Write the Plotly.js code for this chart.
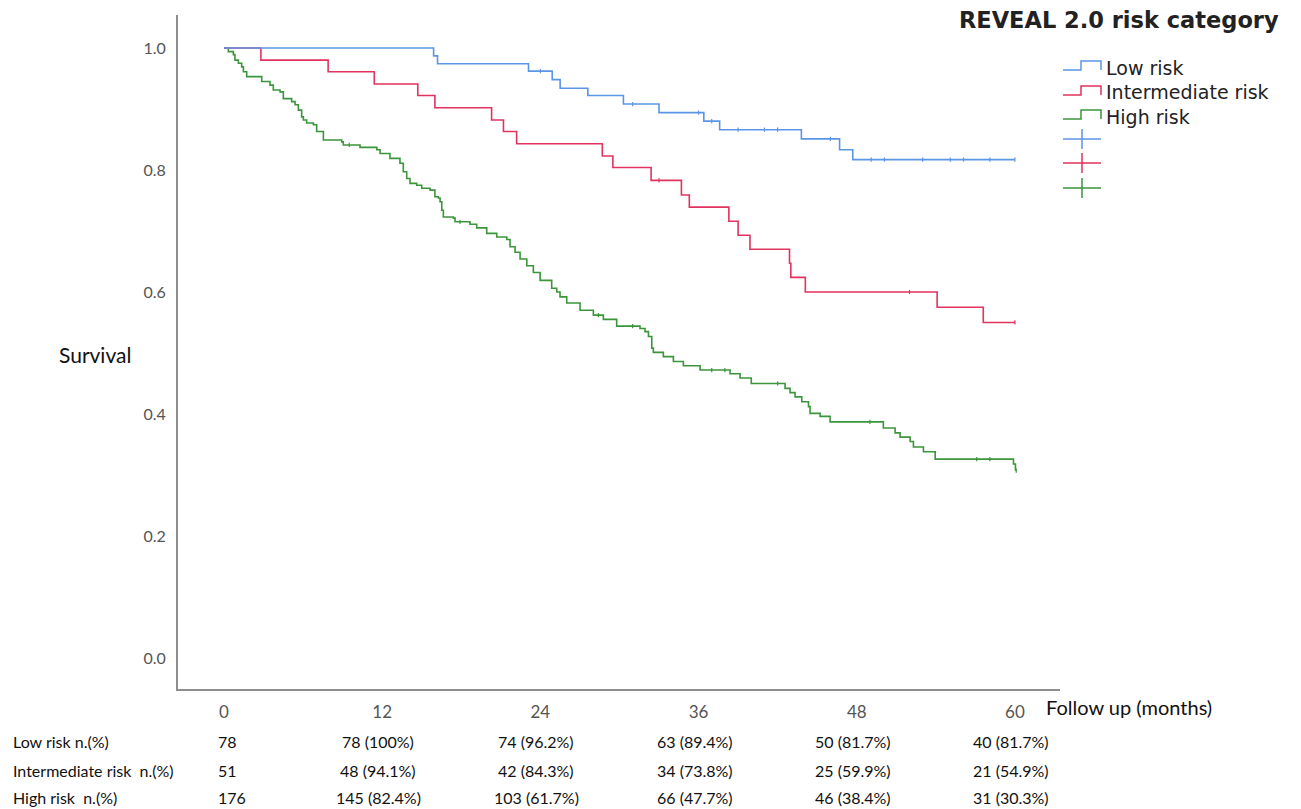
<!DOCTYPE html>
<html>
<head>
<meta charset="utf-8">
<script src="https://cdn.plot.ly/plotly-3.0.1.min.js"></script>
<style>html,body{margin:0;padding:0;background:#fff;}#chart{width:1301px;height:809px;}</style>
</head>
<body>
<div id="chart"></div>
<script>
// ---------- DATA ----------
const groups = ["Low risk", "Intermediate risk", "High risk"];

const lowTime = [0, 15.9, 16.2, 23.1, 24.9, 25.5, 27.6, 30.3, 33.0, 36.4, 37.6, 43.8, 46.7, 47.7, 60];
const lowSurv = [1.0, 0.987, 0.974, 0.962, 0.948, 0.934, 0.922, 0.908, 0.894, 0.880, 0.866, 0.851, 0.833, 0.817, 0.817];
const lowCensTime = [24.0, 31.0, 36.0, 37.0, 39.0, 41.0, 42.0, 46.0, 49.1, 50.1, 53.0, 55.1, 56.1, 58.1, 60.0];
const lowCensSurv = [0.962, 0.908, 0.894, 0.880, 0.866, 0.866, 0.866, 0.851, 0.817, 0.817, 0.817, 0.817, 0.817, 0.817, 0.817];

const midTime = [0, 2.8, 7.9, 11.4, 14.7, 16.0, 20.3, 21.2, 22.2, 28.7, 29.5, 32.4, 34.7, 35.3, 38.3, 39.0, 39.9, 42.9, 43.0, 44.1, 54.1, 57.6, 60];
const midSurv = [1.0, 0.980, 0.961, 0.941, 0.922, 0.902, 0.882, 0.863, 0.843, 0.823, 0.804, 0.783, 0.759, 0.739, 0.716, 0.693, 0.670, 0.647, 0.624, 0.600, 0.575, 0.550, 0.550];
const midCensTime = [33.0, 52.0, 60.0];
const midCensSurv = [0.783, 0.600, 0.550];

const highTime = [0, 0.33, 0.71, 0.83, 1.09, 1.34, 1.47, 1.72, 2.86, 3.49, 3.74, 4.25, 4.5, 5.13, 5.39, 5.64, 5.89, 6.02, 6.27, 6.78, 7.03, 7.54, 8.93, 9.05, 10.32, 11.59, 11.84, 12.59, 13.35, 13.6, 13.86, 14.11, 14.62, 15.0, 15.63, 16.0, 16.26, 16.39, 16.52, 16.64, 17.4, 17.53, 18.66, 19.17, 19.93, 20.69, 21.45, 21.7, 22.08, 22.46, 22.97, 23.47, 23.98, 24.86, 25.24, 25.49, 26.0, 27.01, 28.02, 28.78, 29.79, 31.56, 31.94, 32.2, 32.45, 32.57, 33.33, 34.09, 34.85, 36.12, 38.39, 39.15, 40.0, 42.56, 42.94, 43.32, 43.83, 44.34, 44.46, 45.22, 45.98, 50.02, 50.91, 51.29, 52.05, 52.3, 53.06, 53.95, 59.89, 60.04];
const highSurv = [1.0, 0.994, 0.989, 0.980, 0.975, 0.969, 0.961, 0.953, 0.945, 0.939, 0.931, 0.928, 0.917, 0.912, 0.907, 0.898, 0.887, 0.882, 0.877, 0.874, 0.863, 0.849, 0.846, 0.841, 0.837, 0.833, 0.827, 0.819, 0.811, 0.797, 0.786, 0.778, 0.775, 0.770, 0.767, 0.756, 0.754, 0.748, 0.734, 0.723, 0.721, 0.715, 0.711, 0.705, 0.696, 0.690, 0.686, 0.674, 0.665, 0.654, 0.643, 0.632, 0.619, 0.606, 0.600, 0.592, 0.582, 0.570, 0.562, 0.555, 0.544, 0.540, 0.535, 0.527, 0.508, 0.501, 0.494, 0.486, 0.479, 0.472, 0.466, 0.459, 0.450, 0.442, 0.435, 0.428, 0.420, 0.412, 0.401, 0.396, 0.387, 0.377, 0.369, 0.362, 0.355, 0.346, 0.338, 0.326, 0.318, 0.307];
const highCensTime = [9.5, 17.9, 28.4, 31.0, 37.0, 38.0, 42.0, 49.0, 57.1, 58.1, 60.1];
const highCensSurv = [0.841, 0.715, 0.562, 0.544, 0.472, 0.472, 0.450, 0.387, 0.326, 0.326, 0.307];

const xTicks = [0, 12, 24, 36, 48, 60];
const yTicks = [0, 0.2, 0.4, 0.6, 0.8, 1.0];

const rowLabels = ["Low risk n.(%)", "Intermediate risk\u00a0\u00a0n.(%)", "High risk\u00a0\u00a0n.(%)"];
const lowAtRisk  = ["78", "78 (100%)", "74 (96.2%)", "63 (89.4%)", "50 (81.7%)", "40 (81.7%)"];
const midAtRisk  = ["51", "48 (94.1%)", "42 (84.3%)", "34 (73.8%)", "25 (59.9%)", "21 (54.9%)"];
const highAtRisk = ["176", "145 (82.4%)", "103 (61.7%)", "66 (47.7%)", "46 (38.4%)", "31 (30.3%)"];

// ---------- STYLE ----------
const colors = ["#5b95e6", "#e2325e", "#3b953b"];
const FONT = "Lato, 'Open Sans', sans-serif";
const LEGFONT = "'DejaVu Sans', sans-serif";
const L = 178, R = 1060, T = 15, B = 689;
const px = v => (v - L) / (R - L);
const py = v => (B - v) / (B - T);

function curve(x, y, c) {
  return {x, y, type: "scatter", mode: "lines", line: {shape: "hv", color: c, width: 1.6}, hoverinfo: "skip"};
}
function cens(x, y, c) {
  return {x, y, type: "scatter", mode: "markers", marker: {symbol: "line-ns", size: 3, line: {width: 1.2, color: c}, color: c}, hoverinfo: "skip"};
}

const data = [
  curve(highTime, highSurv, colors[2]),
  curve(midTime, midSurv, colors[1]),
  curve(lowTime, lowSurv, colors[0]),
  cens(lowCensTime, lowCensSurv, colors[0]),
  cens(midCensTime, midCensSurv, colors[1]),
  cens(highCensTime, highCensSurv, colors[2])
];

// legend (drawn manually to reproduce step icons)
const shapes = [];
const annotations = [];
const legY = [[70, 61, 68], [95, 86, 92], [119, 110, 117]];
groups.forEach((g, i) => {
  const [b, t, ty] = legY[i];
  shapes.push({type: "path", xref: "paper", yref: "paper",
    path: `M ${px(1063)} ${py(b)} L ${px(1081)} ${py(b)} L ${px(1081)} ${py(t)} L ${px(1101)} ${py(t)} L ${px(1101)} ${py(b)}`,
    line: {color: colors[i], width: 1.5}});
  annotations.push({xref: "paper", yref: "paper", x: px(1104), y: py(ty), xanchor: "left", yanchor: "middle",
    text: g, showarrow: false, font: {family: LEGFONT, size: 19, color: "#222"}});
});
const crossY = [139, 163, 188];
crossY.forEach((cy, i) => {
  shapes.push({type: "line", xref: "paper", yref: "paper", x0: px(1063), x1: px(1101), y0: py(cy), y1: py(cy), line: {color: colors[i], width: 1.5}});
  shapes.push({type: "line", xref: "paper", yref: "paper", x0: px(1082), x1: px(1082), y0: py(cy - 10), y1: py(cy + 10), line: {color: colors[i], width: 1.5}});
});
annotations.push({xref: "paper", yref: "paper", x: px(1281), y: py(20), xanchor: "right", yanchor: "middle",
  text: "<b>REVEAL 2.0 risk category</b>", showarrow: false, font: {family: LEGFONT, size: 22.5, color: "#222"}});

// axis titles
annotations.push({xref: "paper", yref: "paper", x: px(57), y: py(354), xanchor: "left", yanchor: "middle",
  text: "Survival", showarrow: false, font: {family: FONT, size: 21, color: "#111"}});
annotations.push({xref: "paper", yref: "paper", x: px(1044), y: py(707), xanchor: "left", yanchor: "middle",
  text: "Follow up (months)", showarrow: false, font: {family: FONT, size: 20, color: "#111"}});

// number-at-risk table
const rowsY = [742, 770, 797];
const tableRows = [lowAtRisk, midAtRisk, highAtRisk];
rowLabels.forEach((lab, r) => {
  annotations.push({xref: "paper", yref: "paper", x: px(11), y: py(rowsY[r]), xanchor: "left", yanchor: "middle",
    text: lab, showarrow: false, font: {family: FONT, size: 16, color: "#111"}});
  tableRows[r].forEach((v, c) => {
    const first = c === 0;
    annotations.push({xref: "x", yref: "paper", x: xTicks[c], y: py(rowsY[r]),
      xanchor: first ? "left" : "center", yanchor: "middle", xshift: first ? -8 : -4,
      text: v, showarrow: false, font: {family: FONT, size: 16, color: "#111"}});
  });
});

const layout = {
  width: 1301, height: 809,
  margin: {l: L, r: 1301 - R, t: T, b: 809 - B, pad: 0},
  paper_bgcolor: "#fff", plot_bgcolor: "#fff",
  showlegend: false,
  font: {family: FONT},
  xaxis: {range: [-3.49, 63.42], tickvals: xTicks, ticktext: xTicks.map(String),
    showline: true, linecolor: "#8e8e8e", linewidth: 2, showgrid: false, zeroline: false,
    ticks: "", tickfont: {family: FONT, size: 17, color: "#555"}, ticklabelstandoff: 7, fixedrange: true},
  yaxis: {range: [-0.0508, 1.054], tickvals: yTicks, tickformat: ".1f",
    showline: true, linecolor: "#8e8e8e", linewidth: 2, showgrid: false, zeroline: false,
    ticks: "", tickfont: {family: FONT, size: 16, color: "#555"}, ticklabelstandoff: 7, fixedrange: true},
  shapes, annotations
};

Plotly.newPlot("chart", data, layout, {displayModeBar: false, staticPlot: true});
</script>
</body>
</html>
